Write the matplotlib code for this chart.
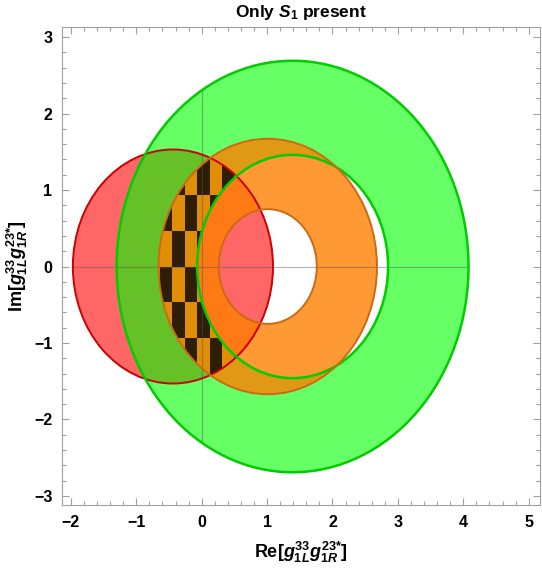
import numpy as np
import matplotlib
matplotlib.use("Agg")
import matplotlib.pyplot as plt
from matplotlib import patches
from matplotlib.ticker import MultipleLocator

plt.rcParams["font.family"] = ["Liberation Sans", "DejaVu Sans"]
plt.rcParams["font.weight"] = "bold"
plt.rcParams["axes.labelweight"] = "bold"
plt.rcParams["mathtext.fontset"] = "custom"
plt.rcParams["mathtext.rm"] = "Liberation Sans:bold"
plt.rcParams["mathtext.it"] = "Liberation Sans:bold:italic"
plt.rcParams["mathtext.bf"] = "Liberation Sans:bold"

# allowed regions (circles in the complex plane)
red_center = (-0.44, 0.0)
red_radius = 1.53

green_center = (1.39, 0.0)
green_outer = 2.69
green_inner = 1.46

orange_center = (1.01, 0.0)
orange_outer = 1.67
orange_inner = 0.75

# rendering texture of the triple overlap
checker_x0, checker_dx = -0.64, 0.19
checker_dy = 0.47

xlim = (-2.136, 5.173)
ylim = (-3.118, 3.131)

fig = plt.figure(figsize=(5.42, 5.69), dpi=100)
ax = fig.add_axes([0.1144, 0.1125, 0.8819, 0.8400])

# fills: red, green, orange (blended like the original)
ax.add_patch(patches.Circle(red_center, red_radius, facecolor=(1, 0, 0),
                            alpha=0.6, edgecolor="none", zorder=1))
ax.add_patch(patches.Annulus(green_center, green_outer, green_outer - green_inner,
                             facecolor=(0, 1, 0), alpha=0.6, edgecolor="none", zorder=2))
ax.add_patch(patches.Annulus(orange_center, orange_outer, orange_outer - orange_inner,
                             facecolor=(1, 0.5, 0), alpha=0.8, edgecolor="none", zorder=3))

# triple overlap region: red ∩ orange disk, outside green inner disk
ys = np.linspace(-red_radius, red_radius, 600)


def half_width(r, y):
    return np.sqrt(np.clip(r**2 - y**2, 0, None))


left = np.maximum(red_center[0] - half_width(red_radius, ys),
                  orange_center[0] - half_width(orange_outer, ys))
right = np.minimum(red_center[0] + half_width(red_radius, ys),
                   orange_center[0] + half_width(orange_outer, ys))
gl = np.where(np.abs(ys) < green_inner,
              green_center[0] - half_width(green_inner, ys), np.inf)
right = np.minimum(right, gl)
ok = left < right
poly = np.vstack([np.column_stack([left[ok], ys[ok]]),
                  np.column_stack([right[ok], ys[ok]])[::-1]])
clip = patches.Polygon(poly, closed=True, facecolor="none", edgecolor="none")
ax.add_patch(clip)

for i in range(8):
    for j in range(-4, 4):
        if (i + j) % 2 == 1:
            rect = patches.Rectangle((checker_x0 + i * checker_dx, j * checker_dy),
                                     checker_dx, checker_dy, facecolor="#2e1e06",
                                     edgecolor="none", zorder=4)
            ax.add_patch(rect)
            rect.set_clip_path(clip)

# mesh lines of the region plot
vy = np.sqrt(green_outer**2 - green_center[0]**2)
ax.plot([0, 0], [-vy, vy], color="#555555", alpha=0.45, lw=0.8, zorder=5)
ax.plot([red_center[0] - red_radius, green_center[0] + green_outer], [0, 0],
        color="#555555", alpha=0.45, lw=0.8, zorder=5)

# boundaries
edge_kw = dict(facecolor="none", zorder=6)
ax.add_patch(patches.Circle(red_center, red_radius, edgecolor="#cc0000", lw=1.4, **edge_kw))
for r in (green_outer, green_inner):
    ax.add_patch(patches.Circle(green_center, r, edgecolor="#00cc00", lw=1.8, **edge_kw))
for r in (orange_outer, orange_inner):
    ax.add_patch(patches.Circle(orange_center, r, edgecolor="#cc6a14", lw=1.4, **edge_kw))

ax.set_xlim(*xlim)
ax.set_ylim(*ylim)
ax.xaxis.set_major_locator(MultipleLocator(1))
ax.xaxis.set_minor_locator(MultipleLocator(0.2))
ax.yaxis.set_major_locator(MultipleLocator(1))
ax.yaxis.set_minor_locator(MultipleLocator(0.2))
ax.tick_params(which="both", direction="in", top=True, right=True,
               color="#a0a0a0", labelsize=11.5, width=0.8)
ax.tick_params(which="major", length=5, pad=7)
ax.tick_params(which="minor", length=3)
for s in ax.spines.values():
    s.set_color("#a0a0a0")
    s.set_linewidth(0.8)

ax.set_title(r"Only $S_1$ present", fontsize=12.5, fontweight="bold", pad=7)
label = r"[$g_{1L}^{33}g_{1R}^{23\mathrm{*}}$]"
ax.set_xlabel("Re" + label, fontsize=13, labelpad=7)
ax.set_ylabel("Im" + label, fontsize=13, labelpad=3)

fig.savefig("out.png", dpi=100)
